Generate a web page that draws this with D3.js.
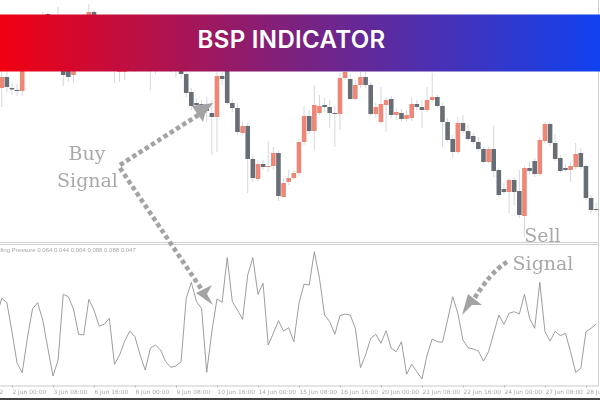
<!DOCTYPE html>
<html>
<head>
<meta charset="utf-8">
<script src="https://cdn.jsdelivr.net/npm/d3@7/dist/d3.min.js"></script>
<style>
  html, body { margin: 0; padding: 0; background: #fff; }
  svg { display: block; }
</style>
</head>
<body>
<svg id="chart" width="600" height="400"></svg>
<script>
// Candle data, 4 hour bars. Bars behind the banner are estimates.
let opens = [162,154,165,154,152,151,202,187,217,197,228,217,197,202,182,167,182,202,217,230,197,182,192,202,170,170,192,177,197,192,187,174,197,192,177,187,182,168,150,139,138,136,129,125,166,182,139,134,109,116,83,63,78,75,76,89,45,60,64,69,100,126,111,129,137,135,129,128,164,163,143,157,165,157,128,120,137,143,127,129,123,124,138,135,132,142,145,136,120,103,90,119,111,106,100,93,80,93,72,53,50,62,51,26,74,81,68,101,118,99,84,74,72,75,89,76,44,33];
let closes = [152,165,155,152.5,151,187,182,212,192,222,212,197,220,167,165,187,207,222,230,197,182,202,212,172,182,187,177,197,182,177,174,192,182,177,192,172,168,149,136,137,135,131,125,166,163,139,134,110,116,83,64,78,75,76,89,46,59,64,69,100,126,111,137,136,135,129,128,164,170,143,157,165,157,128,135,138,142,127,130,123,127,138,135,132,142,145,136,120,102,90,119,111,103,100,93,80,93,71,47,50,62,50,27,74,71,68,102,118,99,83,71,72,76,88,75,44,32,32];
let highs = [167,172,172,160,158,192,212,218,222,230,230,224,235,210,190,195,215,228,238,232,205,210,220,210,190,195,200,205,204,198,195,198,202,198,198,195,190,177,154,144,142,145,142,170,170,187,143,139,120,119,87,82,82,101,95,92,64,72,72,103,136,132,157,147,144,142,136,169,175,168,162,170,170,160,139,155,145,146,134,133,132,144,142,142,155,169,147,139,124,107,125,127,117,109,105,95,95,116,74,59,64,65,72,76,81,84,105,120,120,108,87,78,80,99,94,78,47,39];
let lows = [147,135,150,147,146,146,177,180,187,190,205,190,188,156,160,159,177,195,205,190,177,175,185,159,160,162,172,170,175,172,152,168,176,172,170,165,164,145,132,127,124,120,87,90,157,137,130,107,107,49,60,61,72,70,72,41,44,57,62,66,97,108,92,127,130,114,95,112,162,142,142,154,154,126,124,118,110,124,122,121,120,121,132,114,130,140,134,95,100,84,88,109,101,98,91,79,79,65,45,48,29,37,24,5,68,65,66,99,96,81,69,70,60,73,73,42,29,30];

// Oscillator values, one for each bar
let pressure = [0.0700,0.0877,0.0833,0.0543,0.0227,0.0133,0.0477,0.0770,0.0833,0.0660,0.0377,0.0100,0.0260,0.0917,0.0893,0.0770,0.0517,0.0510,0.0867,0.0760,0.0600,0.0617,0.0677,0.0217,0.0310,0.0450,0.0550,0.0493,0.0310,0.0160,0.0377,0.0410,0.0360,0.0243,0.0187,0.0200,0.0243,0.0877,0.1037,0.0843,0.0777,0.0137,0.0543,0.0870,0.0837,0.1283,0.0843,0.0760,0.0667,0.1110,0.1283,0.0917,0.1027,0.0410,0.0527,0.0653,0.0550,0.0583,0.0443,0.0827,0.1020,0.1010,0.1343,0.1077,0.0710,0.0643,0.0517,0.0703,0.0720,0.0710,0.0577,0.0183,0.0310,0.0477,0.0517,0.0427,0.0553,0.0377,0.0343,0.0443,0.0117,0.0217,0.0143,0.0070,0.0310,0.0470,0.0443,0.0437,0.0660,0.0893,0.0727,0.0460,0.0383,0.0370,0.0350,0.0250,0.0343,0.0527,0.0710,0.0617,0.0727,0.0743,0.0720,0.0917,0.0677,0.0577,0.1037,0.0543,0.0450,0.0547,0.0503,0.0527,0.0343,0.0137,0.0177,0.0543,0.0577,0.0620];

// Bottom axis
let tickBars = [-5,3,11,19,27,35,43,51,59,67,75,83,91,99,107,115];
let tickLabels = ['1 Jun 2022','2 Jun 00:00','3 Jun 08:00','6 Jun 16:00','8 Jun 00:00','9 Jun 08:00','10 Jun 16:00','14 Jun 00:00','15 Jun 08:00','16 Jun 16:00','20 Jun 00:00','21 Jun 08:00','22 Jun 16:00','24 Jun 00:00','27 Jun 08:00','28 Jun 16:00'];

let title = 'BSP INDICATOR';
let oscLabel = 'Selling Pressure 0.064 0.044 0.064 0.088 0.088 0.047';

let svg = d3.select('#chart');

let defs = svg.append('defs');
let grad = defs.append('linearGradient').attr('id', 'banner');
grad.append('stop').attr('offset', '0%').attr('stop-color', '#f20011');
grad.append('stop').attr('offset', '50%').attr('stop-color', '#7a2281');
grad.append('stop').attr('offset', '100%').attr('stop-color', '#1042f0');
defs.append('filter').attr('id', 'soft').append('feGaussianBlur').attr('stdDeviation', 0.45);

let x = d3.scaleLinear().domain([0, 117]).range([-3.4, 596.2]);
let yPrice = d3.scaleLinear().domain([0, 242]).range([242, 0]);
let yOsc = d3.scaleLinear().domain([0, 0.141]).range([386, 245]);

// panel frame
let frame = svg.append('g').attr('stroke', '#cfd0d4').attr('stroke-width', 1);
frame.append('line').attr('x1', 0).attr('x2', 598).attr('y1', 242.5).attr('y2', 242.5);
frame.append('line').attr('x1', 0).attr('x2', 598).attr('y1', 244.5).attr('y2', 244.5);
frame.append('line').attr('x1', 598.5).attr('x2', 598.5).attr('y1', 0).attr('y2', 386);

// candles
let candles = svg.append('g').attr('filter', 'url(#soft)');
let bars = d3.range(opens.length);

candles.selectAll('line.wick').data(bars).join('line')
  .attr('class', 'wick')
  .attr('x1', d => x(d)).attr('x2', d => x(d))
  .attr('y1', d => yPrice(highs[d])).attr('y2', d => yPrice(lows[d]))
  .attr('stroke', '#d5d7e3').attr('stroke-width', 1);

candles.selectAll('rect.body').data(bars).join('rect')
  .attr('class', 'body')
  .attr('x', d => x(d) - 2.3)
  .attr('width', 4.6)
  .attr('y', d => yPrice(Math.max(opens[d], closes[d])))
  .attr('height', d => Math.max(1, Math.abs(yPrice(opens[d]) - yPrice(closes[d]))))
  .attr('fill', d => closes[d] > opens[d] ? '#ef8776' : '#686e76');

// oscillator
let oscLine = d3.line().x((d, i) => x(i)).y(d => yOsc(d));
svg.append('path')
  .datum(pressure)
  .attr('d', oscLine)
  .attr('fill', 'none')
  .attr('stroke', '#909296')
  .attr('stroke-width', 0.9)
  .attr('filter', 'url(#soft)');

svg.append('text')
  .attr('x', -8).attr('y', 252)
  .attr('font-family', '"Liberation Sans", sans-serif')
  .attr('font-size', 6)
  .attr('fill', '#a6a8ac')
  .attr('filter', 'url(#soft)')
  .text(oscLabel);

// axis
let axis = d3.axisBottom(x)
  .tickValues(tickBars)
  .tickFormat((d, i) => tickLabels[i])
  .tickSize(2)
  .tickSizeOuter(0);

let axisG = svg.append('g')
  .attr('transform', 'translate(0,385.5)')
  .attr('filter', 'url(#soft)')
  .call(axis);
axisG.select('.domain').attr('d', 'M0,0.5H599').attr('stroke', '#c8c9cd');
axisG.selectAll('.tick line').attr('stroke', '#b4b6ba');
axisG.selectAll('.tick text')
  .attr('text-anchor', 'start')
  .attr('x', 0).attr('y', 4).attr('dy', '0.71em')
  .attr('font-family', '"DejaVu Sans", sans-serif')
  .attr('font-size', 5.9)
  .attr('fill', '#a6a8ac');

// bottom edge of the screenshot
svg.append('rect').attr('x', 0).attr('y', 398).attr('width', 600).attr('height', 2).attr('fill', '#444');

// annotation arrows
let arrowColor = '#a3a3a3';
let notes = svg.append('g').attr('filter', 'url(#soft)');
let dotted = [
  'M120,165L203,112',
  'M120,168L204,293',
  'M507,262Q490,272 471,304'
];
notes.selectAll('path.dots').data(dotted).join('path')
  .attr('class', 'dots')
  .attr('d', d => d)
  .attr('fill', 'none')
  .attr('stroke', arrowColor)
  .attr('stroke-width', 4.6)
  .attr('stroke-dasharray', '4.4 3');

let heads = [
  '213,103 192,106 203,122 205,114',
  '213,305 196,293 212,285 207,294',
  '462,315 468,294 482,305 472,305'
];
notes.selectAll('polygon').data(heads).join('polygon')
  .attr('points', d => d)
  .attr('fill', arrowColor);

let noteText = [
  {t: 'Buy', x: 87, y: 160},
  {t: 'Signal', x: 87.5, y: 187},
  {t: 'Sell', x: 542.5, y: 242},
  {t: 'Signal', x: 543, y: 270}
];
notes.selectAll('text').data(noteText).join('text')
  .attr('x', d => d.x).attr('y', d => d.y)
  .attr('text-anchor', 'middle')
  .attr('font-family', '"DejaVu Serif", serif')
  .attr('font-size', 19)
  .attr('fill', '#a9a9a9')
  .text(d => d.t);

// banner on top of everything
svg.append('rect')
  .attr('x', 0).attr('y', 14.5).attr('width', 600).attr('height', 57)
  .attr('fill', 'url(#banner)');

svg.append('text')
  .attr('x', 291.5).attr('y', 47.5)
  .attr('text-anchor', 'middle')
  .attr('font-family', 'Inter, sans-serif')
  .attr('font-weight', 600)
  .attr('font-size', 24)
  .attr('letter-spacing', 0.35)
  .attr('fill', '#fff')
  .text(title);
</script>
</body>
</html>
